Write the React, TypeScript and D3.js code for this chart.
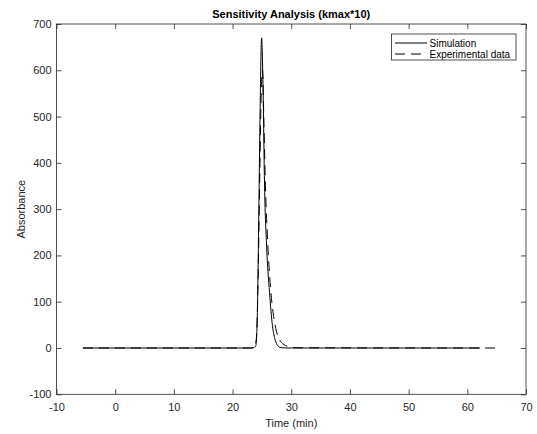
import React, { useEffect, useRef } from "react";
import * as d3 from "d3";

// simulated curve (kmax*10)
const simTime = [-5.5, 23.0, 23.6, 23.95, 24.2, 24.45, 24.7, 24.95, 25.2, 25.45, 25.8, 26.3, 26.8, 27.2, 27.6, 28.0, 28.6, 30.0, 62.2];
const simAbs = [0, 0, 0.5, 4, 60, 270, 520, 670, 560, 350, 220, 120, 48, 20, 7, 2, 0.3, 0, 0];

// experimental data
const expTime = [-5.5, 23.0, 23.7, 24.05, 24.35, 24.65, 24.9, 25.1, 25.35, 25.6, 26.0, 26.5, 27.0, 27.5, 28.0, 28.5, 29.0, 30.0, 31.0, 65.3];
const expAbs = [0, 0, 1, 20, 150, 380, 560, 600, 480, 350, 225, 125, 68, 35, 18, 10, 5.5, 2, 0.5, 0];

const xTicks = [-10, 0, 10, 20, 30, 40, 50, 60, 70];
const yTicks = [-100, 0, 100, 200, 300, 400, 500, 600, 700];

const W = 537;
const H = 434;
const font = "'Liberation Sans', Arial, Helvetica, sans-serif";
const ink = "#262626";

export default function App() {
  const svgRef = useRef<SVGSVGElement>(null);

  useEffect(() => {
    const svg = d3.select(svgRef.current);
    svg.selectAll("*").remove();

    const left = 56.5, right = 526, top = 24, bottom = 394.3;

    const x = d3.scaleLinear().domain([-10, 70]).range([left, right]);
    const y = d3.scaleLinear().domain([-100, 700]).range([bottom, top]);

    svg.append("rect")
      .attr("width", W).attr("height", H).attr("fill", "#fff");

    // matlab-style plain hyphen minus
    const fmt = (d: any) => String(d);

    // ticks (inward, all four sides)
    const g = svg.append("g");
    const xb = g.append("g").attr("transform", `translate(0,${bottom})`)
      .call(d3.axisBottom(x).tickValues(xTicks).tickSize(-5).tickSizeOuter(0).tickPadding(9).tickFormat(fmt));
    const xt = g.append("g").attr("transform", `translate(0,${top})`)
      .call(d3.axisTop(x).tickValues(xTicks).tickSize(-5).tickSizeOuter(0).tickFormat(() => ""));
    const yl = g.append("g").attr("transform", `translate(${left},0)`)
      .call(d3.axisLeft(y).tickValues(yTicks).tickSize(-5).tickSizeOuter(0).tickPadding(5).tickFormat(fmt));
    const yr = g.append("g").attr("transform", `translate(${right},0)`)
      .call(d3.axisRight(y).tickValues(yTicks).tickSize(-5).tickSizeOuter(0).tickFormat(() => ""));

    [xb, xt, yl, yr].forEach(a => {
      a.select(".domain").remove();
      a.selectAll("line").attr("stroke", ink).attr("stroke-width", 0.8);
      a.selectAll("text").attr("fill", ink).attr("font-family", font).attr("font-size", 11);
    });

    // frame
    svg.append("rect")
      .attr("x", left).attr("y", top)
      .attr("width", right - left).attr("height", bottom - top)
      .attr("fill", "none").attr("stroke", ink).attr("stroke-width", 0.8);

    const curve = d3.line<[number, number]>().x(d => x(d[0])).y(d => y(d[1])).curve(d3.curveMonotoneX);
    const simPts: [number, number][] = simTime.map((t, i) => [t, simAbs[i]]);
    const expPts: [number, number][] = expTime.map((t, i) => [t, expAbs[i]]);

    svg.append("path").attr("d", curve(simPts))
      .attr("fill", "none").attr("stroke", "#000").attr("stroke-width", 1);
    svg.append("path").attr("d", curve(expPts))
      .attr("fill", "none").attr("stroke", "#000").attr("stroke-width", 1)
      .attr("stroke-dasharray", "10,6");

    // legend
    const lg = svg.append("g");
    lg.append("rect").attr("x", 391.5).attr("y", 34).attr("width", 124.5).attr("height", 26)
      .attr("fill", "#fff").attr("stroke", ink).attr("stroke-width", 0.8);
    const items = [
      { label: "Simulation", dash: null as string | null },
      { label: "Experimental data", dash: "10,6" },
    ];
    items.forEach((it, i) => {
      const yy = 43 + i * 11;
      lg.append("line").attr("x1", 395).attr("x2", 427).attr("y1", yy).attr("y2", yy)
        .attr("stroke", "#000").attr("stroke-width", 1)
        .attr("stroke-dasharray", it.dash);
      lg.append("text").attr("x", 429.5).attr("y", yy).attr("dy", "0.35em")
        .attr("font-family", font).attr("font-size", 10).attr("fill", "#000").text(it.label);
    });

    // title and labels
    svg.append("text").attr("x", (left + right) / 2).attr("y", 17.5)
      .attr("text-anchor", "middle").attr("font-family", font).attr("font-size", 11)
      .attr("font-weight", "bold").attr("fill", "#000").text("Sensitivity Analysis (kmax*10)");
    svg.append("text").attr("x", (left + right) / 2).attr("y", 427)
      .attr("text-anchor", "middle").attr("font-family", font).attr("font-size", 11)
      .attr("fill", ink).text("Time (min)");
    svg.append("text")
      .attr("transform", `translate(25,${(top + bottom) / 2}) rotate(-90)`)
      .attr("text-anchor", "middle").attr("font-family", font).attr("font-size", 11)
      .attr("fill", ink).text("Absorbance");
  }, []);

  return (
    <div style={{ position: "absolute", left: 0, top: 0 }}>
      <svg ref={svgRef} width={W} height={H} style={{ display: "block" }} />
    </div>
  );
}
